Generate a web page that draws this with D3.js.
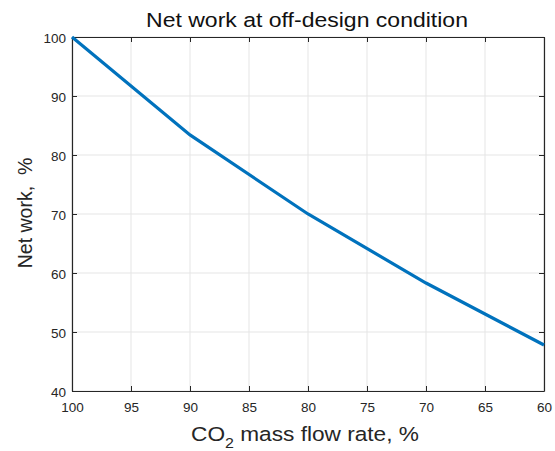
<!DOCTYPE html>
<html><head><meta charset="utf-8">
<script src="https://cdn.jsdelivr.net/npm/d3@7"></script>
<style>body{margin:0;background:#fff}svg{display:block}text{font-family:"Liberation Sans",Arial,sans-serif}</style>
</head><body>
<svg id="c" width="555" height="451"></svg>
<script>
const flowRate = [100, 90, 80, 70, 60];
const netWork = [100, 83.4, 70.0, 58.3, 47.8];
const xTicks = [100, 95, 90, 85, 80, 75, 70, 65, 60];
const yTicks = [40, 50, 60, 70, 80, 90, 100];

const svg = d3.select("#c");
const L = 72, R = 544, T = 37, B = 391;
const x = d3.scaleLinear().domain([100, 60]).range([L, R]);
const y = d3.scaleLinear().domain([40, 100]).range([B, T]);
const ink = "#262626";

// grid
svg.append("g").selectAll("line").data(xTicks).join("line")
  .attr("x1", d => x(d)).attr("x2", d => x(d)).attr("y1", T).attr("y2", B)
  .attr("stroke", "#e5e5e5").attr("stroke-width", 1);
svg.append("g").selectAll("line").data(yTicks).join("line")
  .attr("x1", L).attr("x2", R).attr("y1", d => y(d)).attr("y2", d => y(d))
  .attr("stroke", "#e5e5e5").attr("stroke-width", 1);

// axes with inward ticks
const tl = 5;
const fmt = d3.format("d");
const gx = svg.append("g").attr("transform", `translate(0,${B})`)
  .call(d3.axisBottom(x).tickValues(xTicks).tickSizeInner(-tl).tickSizeOuter(0).tickPadding(11.5).tickFormat(fmt));
const gxt = svg.append("g").attr("transform", `translate(0,${T})`)
  .call(d3.axisTop(x).tickValues(xTicks).tickSizeInner(-tl).tickSizeOuter(0).tickFormat(""));
const gy = svg.append("g").attr("transform", `translate(${L},0)`)
  .call(d3.axisLeft(y).tickValues(yTicks).tickSizeInner(-tl).tickSizeOuter(0).tickPadding(6).tickFormat(fmt));
const gyr = svg.append("g").attr("transform", `translate(${R},0)`)
  .call(d3.axisRight(y).tickValues(yTicks).tickSizeInner(-tl).tickSizeOuter(0).tickFormat(""));
[gx, gxt, gy, gyr].forEach(g => {
  g.selectAll("path").attr("stroke", ink).attr("stroke-width", 1.2);
  g.selectAll("line").attr("stroke", ink);
  g.selectAll("text").attr("fill", ink).attr("font-size", 13.5);
});
gy.selectAll("text").attr("dy", "0.42em");

// line
svg.append("path").datum(flowRate.map((f, i) => [f, netWork[i]]))
  .attr("fill", "none").attr("stroke", "#0072BD").attr("stroke-width", 3.2)
  .attr("d", d3.line().x(d => x(d[0])).y(d => y(d[1])));

// helper: stretch horizontally to target width around center
function stretch(sel, cx, by, target) {
  const w = sel.node().getComputedTextLength();
  const sx = target / w;
  sel.attr("x", 0).attr("y", 0).attr("transform", `translate(${cx},${by}) scale(${sx},1)`);
}

// labels
const title = svg.append("text").attr("text-anchor", "middle")
  .attr("font-size", 19.5).attr("fill", "#111").text("Net work at off-design condition");
stretch(title, 307, 26.7, 322);

const xl = svg.append("text").attr("text-anchor", "middle")
  .attr("font-size", 20.5).attr("fill", ink);
xl.append("tspan").text("CO");
xl.append("tspan").attr("font-size", 14.5).attr("dy", 7).text("2");
xl.append("tspan").attr("dy", -7).text(" mass flow rate, %");
stretch(xl, 305, 440.5, 228);

svg.append("text").attr("transform", `translate(32,213) rotate(-90) scale(1,1.08)`).attr("text-anchor", "middle")
  .attr("font-size", 19.5).attr("fill", ink).text("Net work,\u00a0 %");
</script>
</body></html>
